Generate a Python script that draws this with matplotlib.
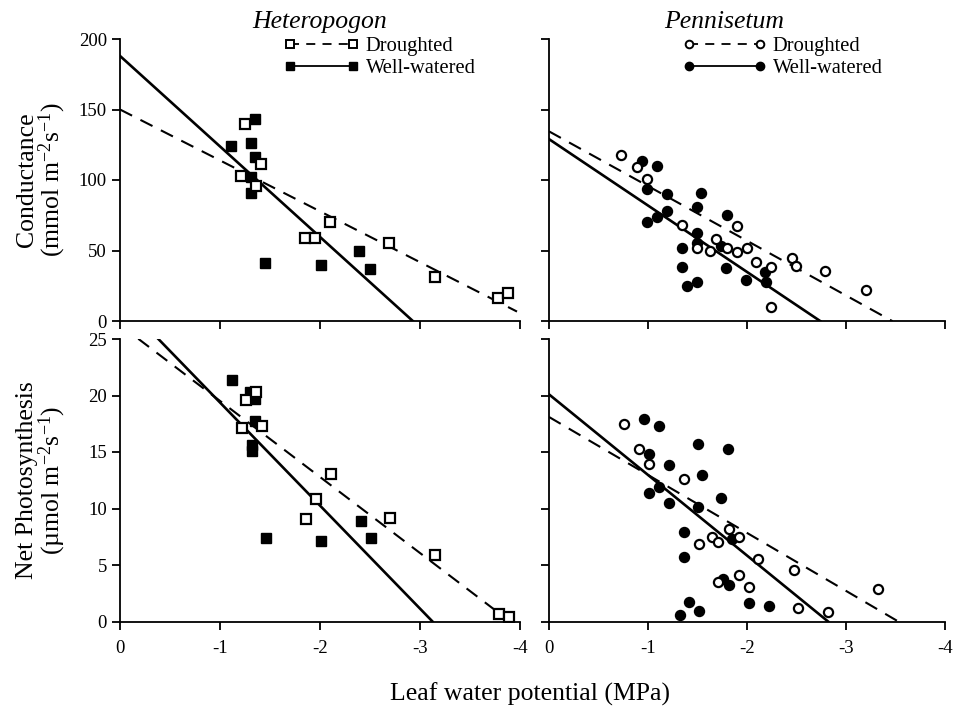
import numpy as np
import matplotlib
matplotlib.use('Agg')
import matplotlib.pyplot as plt
from matplotlib.lines import Line2D

plt.rcParams['font.family'] = ['Liberation Serif', 'DejaVu Serif']
plt.rcParams['mathtext.fontset'] = 'custom'
plt.rcParams['mathtext.rm'] = 'Liberation Serif'
plt.rcParams['mathtext.it'] = 'Liberation Serif:italic'

# ---------------- data ----------------
X_TICKS = [0, -1, -2, -3, -4]
X_TICK_LABELS = ['0', '-1', '-2', '-3', '-4']
COND_TICKS = [0, 50, 100, 150, 200]
PHOTO_TICKS = [0, 5, 10, 15, 20, 25]

# Heteropogon - conductance
HET_COND_DRY_X = [-1.25, -1.41, -1.21, -1.36, -1.85, -1.95, -2.10, -2.69, -3.15, -3.78, -3.88]
HET_COND_DRY_Y = [140, 111, 103, 96, 59, 59, 70, 55.5, 31.4, 16.5, 19.6]
HET_COND_WET_X = [-1.35, -1.11, -1.31, -1.35, -1.31, -1.31, -1.45, -2.01, -2.39, -2.50]
HET_COND_WET_Y = [143, 124, 126.5, 116, 102, 91, 41, 40, 50, 36.7]

# Heteropogon - net photosynthesis
HET_PHOTO_DRY_X = [-1.26, -1.36, -1.22, -1.42, -1.96, -1.86, -2.11, -2.70, -3.15, -3.79, -3.89]
HET_PHOTO_DRY_Y = [19.6, 20.3, 17.1, 17.3, 10.8, 9.07, 13.05, 9.2, 5.9, 0.64, 0.43]
HET_PHOTO_WET_X = [-1.12, -1.30, -1.35, -1.35, -1.32, -1.32, -1.46, -2.01, -2.41, -2.51]
HET_PHOTO_WET_Y = [21.4, 20.3, 19.7, 17.7, 15.6, 15.1, 7.4, 7.15, 8.9, 7.4]

# Pennisetum - conductance
PEN_COND_DRY_X = [-0.73, -0.89, -0.99, -1.34, -1.49, -1.63, -1.69, -1.80, -1.90, -1.90,
                  -2.00, -2.09, -2.24, -2.24, -2.45, -2.49, -2.79, -3.20]
PEN_COND_DRY_Y = [118, 109.5, 100.7, 67.9, 51.5, 50, 58, 52, 67.4, 49,
                  52, 42, 38, 10, 44.5, 39, 35.5, 22]
PEN_COND_WET_X = [-0.94, -1.09, -0.99, -1.19, -1.54, -1.49, -1.19, -1.09, -0.99, -1.49,
                  -1.34, -1.34, -1.49, -1.39, -1.80, -1.74, -2.18, -1.79, -1.99, -2.19, -1.49]
PEN_COND_WET_Y = [113.5, 110, 93.4, 90, 91, 81, 78, 73.5, 70.2, 62.6,
                  51.5, 38.5, 27.9, 25, 75, 53, 35, 37.4, 29, 27.4, 55]

# Pennisetum - net photosynthesis
PEN_PHOTO_DRY_X = [-0.76, -0.91, -1.01, -1.36, -1.52, -1.65, -1.71, -1.71, -1.82, -1.92,
                   -2.11, -2.47, -3.32, -1.92, -2.02, -2.52, -2.82]
PEN_PHOTO_DRY_Y = [17.45, 15.24, 13.9, 12.6, 6.9, 7.5, 7.06, 3.5, 8.16, 7.5,
                   5.5, 4.6, 2.85, 4.1, 3.08, 1.22, 0.81]
PEN_PHOTO_WET_X = [-0.96, -1.11, -1.51, -1.01, -1.21, -1.55, -1.11, -1.01, -1.21, -1.51,
                   -1.74, -1.36, -1.36, -1.41, -1.52, -1.32, -1.81, -1.85, -1.76, -1.82, -2.02, -2.22]
PEN_PHOTO_WET_Y = [17.9, 17.3, 15.7, 14.8, 13.85, 12.97, 11.9, 11.35, 10.5, 10.1,
                   10.9, 7.95, 5.7, 1.75, 0.96, 0.57, 15.24, 7.27, 3.76, 3.23, 1.66, 1.4]

# regression lines: (intercept at 0 MPa, slope per -1 MPa, x where line ends)
HET_COND_FIT_DRY = (150.0, 36.1, -3.97)
HET_COND_FIT_WET = (188.0, 64.2, -2.93)
HET_PHOTO_FIT_DRY = (26.25, 6.73, -3.80)
HET_PHOTO_FIT_WET = (28.5, 9.12, -3.125)
PEN_COND_FIT_DRY = (134.5, 38.8, -3.47)
PEN_COND_FIT_WET = (129.0, 47.1, -2.74)
PEN_PHOTO_FIT_DRY = (18.1, 5.13, -3.53)
PEN_PHOTO_FIT_WET = (20.1, 7.13, -2.82)

# ---------------- figure ----------------
W, H = 966, 707
fig = plt.figure(figsize=(W / 100, H / 100), dpi=100)


def px_axes(x0, y_top, x1, y_bot):
    return fig.add_axes([x0 / W, 1 - y_bot / H, (x1 - x0) / W, (y_bot - y_top) / H])


ax_tl = px_axes(120, 39, 520, 321)
ax_tr = px_axes(549, 39, 945, 321)
ax_bl = px_axes(120, 339, 520, 621.5)
ax_br = px_axes(549, 339, 945, 621.5)

DASH = (0, (6.5, 4.5))


def draw_panel(ax, dx, dy, wx, wy, fit_dry, fit_wet, marker, ylim, yticks, show_xlabels, show_ylabels):
    # fits
    b, m, xe = fit_dry
    xs = np.array([0.0, xe])
    ax.plot(xs, b + m * xs, color='black', lw=1.5, linestyle=DASH, zorder=2)
    b, m, xe = fit_wet
    xs = np.array([0.0, xe])
    ax.plot(xs, b + m * xs, color='black', lw=1.9, linestyle='-', zorder=2)
    # points
    ms = 7.6 if marker == 's' else 7.2
    ax.plot(wx, wy, linestyle='none', marker=marker, ms=ms, mfc='black', mec='black', mew=1.0, zorder=3)
    ax.plot(dx, dy, linestyle='none', marker=marker, ms=ms - 0.6, mfc='white', mec='black', mew=1.6, zorder=4)

    ax.set_xlim(0, -4)
    ax.set_ylim(*ylim)
    for s in ('top', 'right'):
        ax.spines[s].set_visible(False)
    for s in ('left', 'bottom'):
        ax.spines[s].set_linewidth(1.3)
    ax.set_xticks(X_TICKS)
    ax.set_yticks(yticks)
    if show_xlabels:
        ax.set_xticklabels(X_TICK_LABELS)
    else:
        ax.set_xticklabels([])
    if show_ylabels:
        ax.set_yticklabels([str(v) for v in yticks])
    else:
        ax.set_yticklabels([])
    ax.tick_params(axis='x', direction='out', length=6, width=1.3, pad=7, labelsize=13.5)
    ax.tick_params(axis='y', direction='out', length=5.5, width=1.3, pad=4, labelsize=13.5)


draw_panel(ax_tl, HET_COND_DRY_X, HET_COND_DRY_Y, HET_COND_WET_X, HET_COND_WET_Y,
           HET_COND_FIT_DRY, HET_COND_FIT_WET, 's', (0, 200), COND_TICKS, False, True)
draw_panel(ax_tr, PEN_COND_DRY_X, PEN_COND_DRY_Y, PEN_COND_WET_X, PEN_COND_WET_Y,
           PEN_COND_FIT_DRY, PEN_COND_FIT_WET, 'o', (0, 200), COND_TICKS, False, False)
draw_panel(ax_bl, HET_PHOTO_DRY_X, HET_PHOTO_DRY_Y, HET_PHOTO_WET_X, HET_PHOTO_WET_Y,
           HET_PHOTO_FIT_DRY, HET_PHOTO_FIT_WET, 's', (0, 25), PHOTO_TICKS, True, True)
draw_panel(ax_br, PEN_PHOTO_DRY_X, PEN_PHOTO_DRY_Y, PEN_PHOTO_WET_X, PEN_PHOTO_WET_Y,
           PEN_PHOTO_FIT_DRY, PEN_PHOTO_FIT_WET, 'o', (0, 25), PHOTO_TICKS, True, False)

# titles
fig.text(320 / W, 1 - 28 / H, 'Heteropogon', style='italic', fontsize=18.5, ha='center', va='baseline')
fig.text(724 / W, 1 - 28 / H, 'Pennisetum', style='italic', fontsize=18.5, ha='center', va='baseline')

# legends
LEG_LABELS = ['Droughted', 'Well-watered']


def legend_for(marker, x_left, hl):
    h_dry = Line2D([], [], color='black', lw=1.3, linestyle=(0, (5, 4)), marker=marker,
                   ms=5.5, mfc='white', mec='black', mew=1.4)
    h_wet = Line2D([], [], color='black', lw=1.3, linestyle='-', marker=marker,
                   ms=6, mfc='black', mec='black')
    leg = fig.legend([h_dry, h_wet], LEG_LABELS, loc='upper left',
                     bbox_to_anchor=(x_left / W, 1 - 37 / H), bbox_transform=fig.transFigure,
                     frameon=False, numpoints=2, handlelength=hl, handletextpad=0.3,
                     fontsize=14.8, borderpad=0, borderaxespad=0, labelspacing=0.1)
    return leg


legend_for('s', 284, 3.67)
legend_for('o', 683, 4.06)

# axis labels
fig.text(27 / W, 1 - 180 / H, 'Conductance', rotation=90, fontsize=18.5, ha='center', va='center')
fig.text(52 / W, 1 - 180 / H, r'(mmol m$^{-2}$s$^{-1}$)', rotation=90, fontsize=18.5,
         ha='center', va='center')
fig.text(27 / W, 1 - 480 / H, 'Net Photosynthesis', rotation=90, fontsize=18.5, ha='center', va='center')
fig.text(52 / W, 1 - 480 / H, '(\u00b5mol m$^{-2}$s$^{-1}$)', rotation=90, fontsize=18.5,
         ha='center', va='center')
fig.text(390 / W, 1 - 701 / H, 'Leaf water potential (MPa)', fontsize=18.5, ha='left', va='baseline')

fig.savefig('out.png', dpi=100)
